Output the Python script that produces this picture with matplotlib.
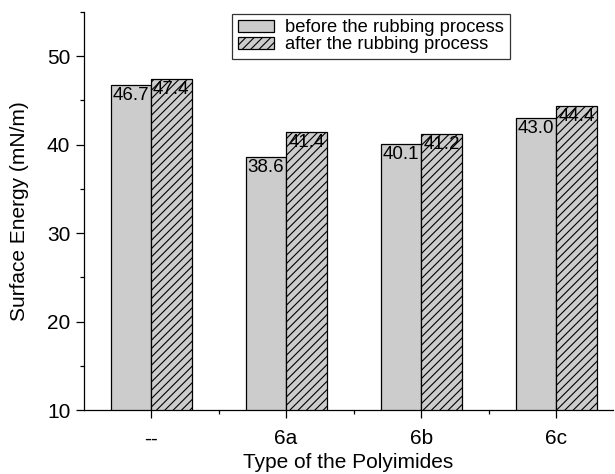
import matplotlib
matplotlib.use("Agg")
import matplotlib.pyplot as plt
import numpy as np
from matplotlib.ticker import FixedLocator, MultipleLocator

plt.rcParams['font.family'] = ['Liberation Sans', 'DejaVu Sans']
plt.rcParams['hatch.linewidth'] = 0.8

categories = ['--', '6a', '6b', '6c']
before = [46.7, 38.6, 40.1, 43.0]
after = [47.4, 41.4, 41.2, 44.4]
series_labels = ['before the rubbing process', 'after the rubbing process']

fig = plt.figure(figsize=(6.15, 4.74), dpi=100)
ax = fig.add_axes([83.5/615, 64/474, (613-83.5)/615, (410-12)/474])

x = np.arange(len(categories))
w = 0.3
b1 = ax.bar(x - w/2, before, w, color='#cccccc', edgecolor='black', linewidth=0.9,
            label=series_labels[0])
b2 = ax.bar(x + w/2, after, w, color='#cccccc', edgecolor='black', linewidth=0.9,
            hatch='////', label=series_labels[1])

for bars, vals in ((b1, before), (b2, after)):
    for r, v in zip(bars, vals):
        ax.annotate(f'{v:.1f}', (r.get_x() + r.get_width()/2, v), xytext=(0, -1.5),
                    textcoords='offset points', ha='center', va='top', fontsize=13.5)

ax.set_xlim(-0.5, 3.42)
ax.set_ylim(10, 55)
ax.set_xticks(x)
ax.set_xticklabels(categories)
ax.xaxis.set_minor_locator(FixedLocator([0.5, 1.5, 2.5]))
ax.set_yticks([10, 20, 30, 40, 50])
ax.yaxis.set_minor_locator(MultipleLocator(5))
ax.tick_params(axis='both', which='major', direction='out', length=6, width=0.9, labelsize=15)
ax.tick_params(axis='both', which='minor', direction='out', length=3, width=0.9)
ax.tick_params(axis='x', which='major', pad=8)

for s in ('top', 'right'):
    ax.spines[s].set_visible(False)
for s in ('left', 'bottom'):
    ax.spines[s].set_linewidth(0.9)

ax.set_xlabel('Type of the Polyimides', fontsize=15, labelpad=3)
ax.set_ylabel('Surface Energy (mN/m)', fontsize=15, labelpad=13)

leg = ax.legend(loc='upper left', bbox_to_anchor=((232-83.5)/(613-83.5), 0.995), fontsize=13.2,
                frameon=True, fancybox=False, edgecolor='black', borderpad=0.3,
                handlelength=2.0, handleheight=0.55, labelspacing=0.0, handletextpad=0.6,
                borderaxespad=0)
leg.get_frame().set_linewidth(0.9)

fig.savefig('out.png', dpi=100)
